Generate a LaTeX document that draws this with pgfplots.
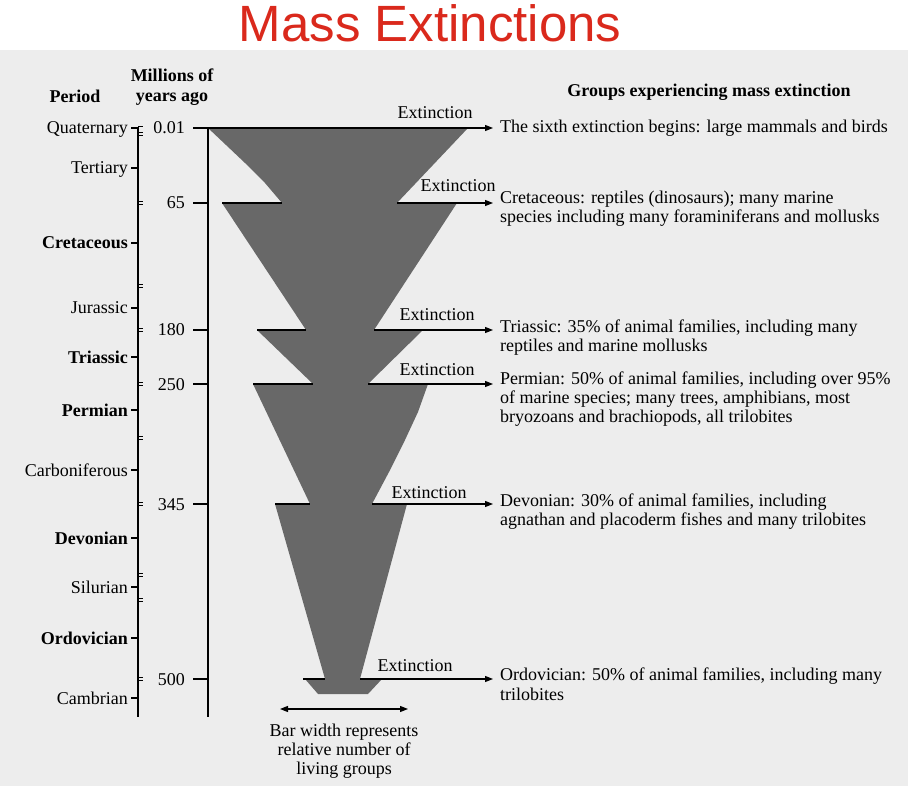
\documentclass[border=0pt]{standalone}
\usepackage{pgfplots}
\pgfplotsset{compat=1.18}
\usepackage{fontspec}
\setmainfont{Liberation Serif}
\newfontfamily\titlefont{Liberation Sans}
\usetikzlibrary{arrows.meta}

\definecolor{paper}{RGB}{237,237,237}
\definecolor{funnel}{RGB}{104,104,104}
\definecolor{titlered}{RGB}{218,41,28}

\newcommand{\tx}{\fontsize{18}{20}\selectfont}
\tikzset{
  lbl/.style={font=\tx, inner sep=0pt},
  ext/.style={line width=1.3pt, -{Triangle[length=8pt,width=6pt]}},
  seg/.style={line width=1.3pt},
}

\begin{document}
\begin{tikzpicture}
\begin{axis}[
    width=921pt, height=786pt, scale only axis,
    xmin=0, xmax=921, ymin=0, ymax=786,
    y dir=reverse,
    axis lines=none,
    clip=false,
]
% page
\fill[white] (0,0) rectangle (921,786);
\fill[paper] (0,50) rectangle (908,786);

% title
\node[anchor=base, inner sep=0pt, text=titlered, font={\titlefont\fontsize{51}{58}\selectfont}] at (430,42) {Mass Extinctions};

% funnel: one block per interval between extinctions
\addplot[fill=funnel, draw=none] coordinates {(208,128) (468,128) (397,203) (282,203) (265,183) (245,163) (226,145) (208,128)};
\addplot[fill=funnel, draw=none] coordinates {(222,203) (457,203) (374,330) (306,330) (222,203)};
\addplot[fill=funnel, draw=none] coordinates {(257,330) (423,330) (368,384) (313,384) (257,330)};
\addplot[fill=funnel, draw=none] coordinates {(253,384) (428,384) (418,412) (405,440) (389,472) (372,504) (310,504) (253,384)};
\addplot[fill=funnel, draw=none] coordinates {(275,504) (407,504) (360,679) (325,679) (275,504)};
\addplot[fill=funnel, draw=none] coordinates {(305,679) (382,679) (368,694) (318,694) (305,679)};

% extinction lines
\draw[ext] (208,128) -- (493,128);
\draw[seg] (222,203) -- (282,203); \draw[ext] (397,203) -- (493,203);
\draw[seg] (257,330) -- (306,330); \draw[ext] (374,330) -- (493,330);
\draw[seg] (253,384) -- (313,384); \draw[ext] (368,384) -- (493,384);
\draw[seg] (275,504) -- (310,504); \draw[ext] (372,504) -- (493,504);
\draw[seg] (303,679) -- (325,679); \draw[ext] (360,679) -- (493,679);

\node[lbl, anchor=base] at (435,119) {Extinction};
\node[lbl, anchor=base] at (458,192) {Extinction};
\node[lbl, anchor=base] at (437,321) {Extinction};
\node[lbl, anchor=base] at (437,375) {Extinction};
\node[lbl, anchor=base] at (429,498) {Extinction};
\node[lbl, anchor=base] at (415,671) {Extinction};

% time axis (millions of years ago)
\draw[seg] (208,128) -- (208,717);
\pgfplotsinvokeforeach{128,203,330,384,504,679}{
  \draw[seg] (193,#1) -- (208,#1);
}
\node[lbl, anchor=base east] at (185,134) {0.01};
\node[lbl, anchor=base east] at (185,209) {65};
\node[lbl, anchor=base east] at (185,336) {180};
\node[lbl, anchor=base east] at (185,390) {250};
\node[lbl, anchor=base east] at (185,510) {345};
\node[lbl, anchor=base east] at (185,685) {500};

% period bracket
\draw[seg] (138,127) -- (138,717);
\draw[line width=1pt] (138,127) -- (143,127);
\pgfplotsinvokeforeach{132.4,135.6, 201.4,204.6, 284.4,287.6, 328.4,331.6, 382.4,385.6, 436.4,439.6, 502.4,505.6, 573.4,576.6, 598.4,601.6, 677.4,680.6}{
  \draw[line width=1pt] (138,#1) -- (143,#1);
}
\pgfplotsinvokeforeach{128, 168, 243, 308, 357, 410, 470, 538, 587, 638, 698}{
  \draw[seg] (131,#1) -- (138,#1);
}
\node[lbl, anchor=base east] at (128,134) {Quaternary};
\node[lbl, anchor=base east] at (128,174) {Tertiary};
\node[lbl, anchor=base east] at (128,249) {\bfseries Cretaceous};
\node[lbl, anchor=base east] at (128,314) {Jurassic};
\node[lbl, anchor=base east] at (128,363) {\bfseries Triassic};
\node[lbl, anchor=base east] at (128,416) {\bfseries Permian};
\node[lbl, anchor=base east] at (128,476) {Carboniferous};
\node[lbl, anchor=base east] at (128,544) {\bfseries Devonian};
\node[lbl, anchor=base east] at (128,593) {Silurian};
\node[lbl, anchor=base east] at (128,644) {\bfseries Ordovician};
\node[lbl, anchor=base east] at (128,704) {Cambrian};

% headings
\node[lbl, anchor=base] at (75,103) {\bfseries Period};
\node[lbl, anchor=base] at (172,82) {\bfseries Millions of};
\node[lbl, anchor=base] at (172,102) {\bfseries years ago};
\node[lbl, anchor=base] at (709,97) {\bfseries Groups experiencing mass extinction};

% groups
\node[lbl, anchor=base west] at (500,133) {The sixth extinction begins: large mammals and birds};
\node[lbl, anchor=base west] at (500,204) {Cretaceous: reptiles (dinosaurs); many marine};
\node[lbl, anchor=base west] at (500,223) {species including many foraminiferans and mollusks};
\node[lbl, anchor=base west] at (500,332) {Triassic: 35\% of animal families, including many};
\node[lbl, anchor=base west] at (500,351) {reptiles and marine mollusks};
\node[lbl, anchor=base west] at (500,384) {Permian: 50\% of animal families, including over 95\%};
\node[lbl, anchor=base west] at (500,403) {of marine species; many trees, amphibians, most};
\node[lbl, anchor=base west] at (500,422) {bryozoans and brachiopods, all trilobites};
\node[lbl, anchor=base west] at (500,506) {Devonian: 30\% of animal families, including};
\node[lbl, anchor=base west] at (500,525) {agnathan and placoderm fishes and many trilobites};
\node[lbl, anchor=base west] at (500,680) {Ordovician: 50\% of animal families, including many};
\node[lbl, anchor=base west] at (500,700) {trilobites};

% bar width key
\draw[line width=1.3pt, {Triangle[length=8pt,width=6pt]}-{Triangle[length=8pt,width=6pt]}] (280,709) -- (408,709);
\node[lbl, anchor=base] at (344,736) {Bar width represents};
\node[lbl, anchor=base] at (344,755) {relative number of};
\node[lbl, anchor=base] at (344,774) {living groups};
\end{axis}
\end{tikzpicture}
\end{document}
